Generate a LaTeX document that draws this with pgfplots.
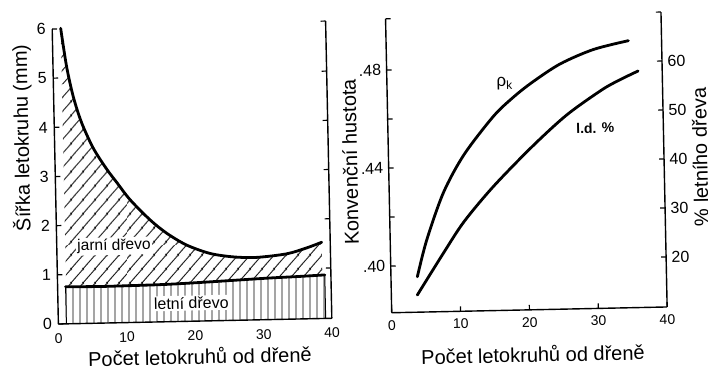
\documentclass[border=0pt]{standalone}
\usepackage{fontspec}
\setmainfont{Liberation Sans}
\usepackage{pgfplots}
\pgfplotsset{compat=1.18}
\usetikzlibrary{patterns}

\pgfdeclarepatternformonly{vlines}{\pgfpointorigin}{\pgfpoint{7pt}{7pt}}{\pgfpoint{7pt}{7pt}}{%
  \pgfsetlinewidth{0.9pt}%
  \pgfpathmoveto{\pgfpoint{3.5pt}{-1pt}}\pgfpathlineto{\pgfpoint{3.5pt}{8pt}}%
  \pgfusepath{stroke}}
\pgfdeclarepatternformonly{dlines}{\pgfpointorigin}{\pgfpoint{11.75pt}{14pt}}{\pgfpoint{11.75pt}{14pt}}{%
  \pgfsetlinewidth{0.9pt}%
  \pgfpathmoveto{\pgfpoint{-2pt}{-2.383pt}}\pgfpathlineto{\pgfpoint{13.75pt}{16.383pt}}%
  \pgfpathmoveto{\pgfpoint{-2pt}{11.617pt}}\pgfpathlineto{\pgfpoint{2pt}{16.383pt}}%
  \pgfpathmoveto{\pgfpoint{9.75pt}{-2.383pt}}\pgfpathlineto{\pgfpoint{13.75pt}{2.383pt}}%
  \pgfusepath{stroke}}

\tikzset{lab/.style={font=\fontsize{20}{20}\selectfont}}
\pgfplotsset{
  base/.style={
    scale only axis,
    /pgf/number format/assume math mode=true,
    axis line style={line width=1.4pt},
    tick style={line width=1.2pt, black},
    major tick length=5pt,
    tick align=inside,
    xmin=0, xmax=40,
    ticklabel style={font=\fontsize{14}{14}\selectfont},
    yticklabel style={font=\fontsize{16}{16}\selectfont},
    clip=false,
  },
}

\begin{document}
\begin{tikzpicture}
\useasboundingbox (0,0) rectangle (708pt,367pt);
\begin{scope}[transform canvas={rotate around={1.2:(354pt,183.5pt)}}]

% ---------------- left chart ----------------
\begin{axis}[base,
  at={(55.5pt,49.2pt)}, anchor=south west,
  width=273.5pt, height=295.1pt,
  ymin=0, ymax=6,
  axis on top,
  axis x line*=bottom, axis y line*=left,
  xtick={0,10,20,30,40}, xtick style={draw=none},
  ytick={0,1,2,3,4,5,6},
  xticklabel style={yshift=-6pt},
  yticklabel style={xshift=-3pt},
  xlabel={Počet letokruhů od dřeně},
  every axis x label/.style={at={(axis description cs:0.515,-0.1186)}, anchor=center, lab},
  ylabel={Šířka letokruhu (mm)},
  every axis y label/.style={at={(axis description cs:-0.119,0.633)}, rotate=90, anchor=center, lab},
]
\addplot[pattern=dlines, draw=none, smooth] coordinates {
  (1.24,6.01) (2.0,5.22) (2.9,4.60) (4.02,4.08) (5.64,3.56) (7.53,3.13)
  (9.04,2.84) (10.84,2.50) (13.71,2.08) (16.11,1.80) (19.0,1.55) (22.4,1.37)
  (25.8,1.29) (29.2,1.27) (33.6,1.33) (36.5,1.44) (38.75,1.55)} \closedcycle;
\addplot[fill=white, draw=none, smooth] coordinates {
  (1.17,0.755) (6,0.745) (11,0.75) (16,0.76) (21,0.785) (26,0.815)
  (31,0.845) (35.5,0.865) (39.1,0.885)} \closedcycle;
\addplot[pattern=vlines, draw=none, smooth] coordinates {
  (1.17,0.755) (6,0.745) (11,0.75) (16,0.76) (21,0.785) (26,0.815)
  (31,0.845) (35.5,0.865) (39.1,0.885)} \closedcycle;
\addplot[line width=2.8pt, line cap=round, smooth] coordinates {
  (1.24,6.01) (2.0,5.22) (2.9,4.60) (4.02,4.08) (5.64,3.56) (7.53,3.13)
  (9.04,2.84) (10.84,2.50) (13.71,2.08) (16.11,1.80) (19.0,1.55) (22.4,1.37)
  (25.8,1.29) (29.2,1.27) (33.6,1.33) (36.5,1.44) (38.75,1.55)};
\addplot[line width=2.8pt, line cap=round, smooth] coordinates {
  (1.17,0.755) (6,0.745) (11,0.75) (16,0.76) (21,0.785) (26,0.815)
  (31,0.845) (35.5,0.865) (39.1,0.885)};
\addplot[line width=1pt] coordinates {(1.17,0) (1.17,0.755)};
\addplot[line width=1pt] coordinates {(39.1,0) (39.1,0.885)};
\node[fill=white, inner sep=1.5pt, font=\fontsize{15.5}{15.5}\selectfont] at (axis cs:8.37,1.56) {jarní dřevo};
\node[fill=white, inner sep=1.5pt, font=\fontsize{16}{16}\selectfont] at (axis cs:19.5,0.37) {letní dřevo};
\end{axis}

% right spine of left chart (density)
\begin{axis}[base,
  at={(55.5pt,49.2pt)}, anchor=south west,
  width=273.5pt, height=297.3pt,
  ymin=0.37957, ymax=0.50032,
  axis x line=none,
  axis y line*=right,
  ytick={0.40,0.42,0.44,0.46,0.48,0.50032},
  yticklabels={{},{},{},{},{},{}},
  ylabel={Konvenční hustota},
  every axis y label/.style={at={(axis description cs:1.0784,0.5244)}, rotate=90, anchor=center, lab},
]
\addplot[draw=none] coordinates {(0,0.40) (40,0.48)};
\end{axis}

% ---------------- right chart ----------------
\begin{axis}[base,
  at={(389pt,53.5pt)}, anchor=south west,
  width=275.5pt, height=294pt,
  ymin=0.38095, ymax=0.50090,
  axis x line*=bottom, axis y line*=left,
  xtick={0,10,20,30,40},
  ytick={0.40,0.42,0.44,0.46,0.48,0.50090},
  yticklabels={.40,{},.44,{},.48,{}},
  xticklabel style={yshift=-4pt},
  yticklabel style={xshift=-2pt},
  xlabel={Počet letokruhů od dřeně},
  every axis x label/.style={at={(axis description cs:0.5096,-0.1505)}, anchor=center, lab},
]
\addplot[line width=2.8pt, line cap=round, smooth] coordinates {
  (3.83,0.3954) (5.3,0.4103) (7.87,0.4295) (10.97,0.4448) (15.36,0.4602)
  (18.3,0.4678) (21.07,0.4737) (25.2,0.4810) (30.07,0.4866) (35.18,0.4899)};
\node[font=\fontsize{17}{17}\selectfont] at (axis cs:17.1,0.4733) {ρ\textsubscript{k}};
\end{axis}

\begin{axis}[base,
  at={(389pt,53.5pt)}, anchor=south west,
  width=275.5pt, height=295pt,
  ymin=9.796, ymax=70,
  axis x line=none,
  axis y line*=right,
  ytick={20,30,40,50,60,70},
  yticklabels={20,30,40,50,60,{}},
  yticklabel style={xshift=2pt},
  ylabel={\% letního dřeva},
  every axis y label/.style={at={(axis description cs:1.1307,0.506)}, rotate=90, anchor=center, lab},
]
\addplot[line width=2.8pt, line cap=round, smooth] coordinates {
  (3.77,13.3) (7.67,21.7) (10.77,28.06) (15.13,35.1) (20.88,43.08)
  (26.0,49.4) (31.1,54.3) (33.6,56.2) (36.5,58.07)};
\node[font=\bfseries\fontsize{14}{14}\selectfont] at (axis cs:30.1,46.6) {l.d. \%};
\end{axis}

\end{scope}
\end{tikzpicture}
\end{document}
